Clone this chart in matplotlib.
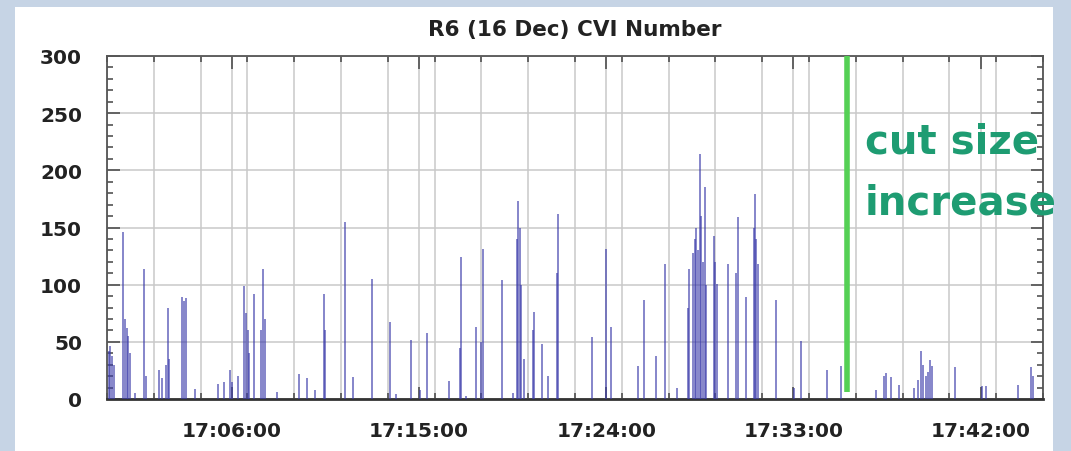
import matplotlib
matplotlib.use("Agg")
import matplotlib.pyplot as plt
from matplotlib.patches import Rectangle
from matplotlib.ticker import MultipleLocator

# ---------------- data ----------------
title = "R6 (16 Dec) CVI Number"
start_label = "17:00:00"
end_label = "17:45:00"
x_tick_labels = ["17:06:00", "17:15:00", "17:24:00", "17:33:00", "17:42:00"]
y_ticks = [0, 50, 100, 150, 200, 250, 300]

# spike times in seconds after 17:00:00 and CVI number values
spike_t = [5, 10, 15, 20,
           47, 52, 57, 62, 65,
           80, 108, 112, 150, 158, 170, 175, 180,
           217, 222, 228, 255,
           320, 338, 355, 360, 378,
           396, 401, 406, 410, 423, 445, 451, 455, 491,
           553, 577, 600, 625, 628, 687, 710, 764, 815, 835,
           878, 902, 923, 986, 1018, 1021, 1035, 1063, 1080, 1084,
           1140, 1170, 1182, 1186, 1190, 1194, 1202, 1228, 1231, 1255, 1272,
           1298, 1301, 1400, 1440, 1455, 1532, 1549, 1583, 1610, 1645,
           1675, 1679, 1690, 1695, 1700, 1705, 1710, 1714, 1718, 1724, 1728,
           1751, 1755, 1761, 1790, 1815, 1819, 1843, 1865, 1869, 1873, 1877,
           1929, 1981, 2001, 2078, 2117,
           2218, 2242, 2247, 2261, 2285,
           2327, 2340, 2348, 2355, 2362, 2368, 2375, 2380,
           2446, 2525, 2535, 2627, 2665, 2672]
spike_v = [42, 46, 38, 30,
           146, 70, 62, 55, 40,
           5, 114, 20, 25, 18, 30, 80, 35,
           89, 86, 88, 9,
           13, 15, 25, 15, 20,
           99, 75, 60, 40, 92, 60, 114, 70, 6,
           22, 18, 8, 92, 60, 155, 19, 105, 67, 4,
           52, 8, 58, 16, 45, 124, 3, 63, 50, 131,
           104, 5, 140, 173, 150, 100, 35, 60, 76, 48, 20,
           110, 162, 54, 131, 63, 29, 87, 38, 118, 10,
           80, 114, 128, 140, 150, 130, 214, 160, 120, 185, 100,
           143, 120, 101, 118, 110, 159, 89, 150, 179, 140, 118,
           87, 10, 51, 25, 29,
           8, 20, 23, 19, 12,
           10, 17, 42, 30, 20, 24, 34, 29,
           28, 11, 11, 12, 28, 20]

cut_label = "17:35:36"
cut_bottom, cut_top = 6, 300
annot_lines = ["cut size", "increase"]


def to_sec(lbl):
    h, m, s = (int(p) for p in lbl.split(":"))
    return (h - 17) * 3600 + m * 60 + s


# ---------------- figure ----------------
W, H = 1071, 452
fig = plt.figure(figsize=(W / 100, H / 100), dpi=100, facecolor="#c6d4e5")
fig.patches.append(Rectangle((15 / W, 0), (1053 - 15) / W, (H - 8) / H,
                             transform=fig.transFigure, facecolor="white",
                             edgecolor="none", zorder=-10))

ax = fig.add_axes([107 / W, 52 / H, 936 / W, 343 / H])
ax.set_facecolor("white")

ax.vlines(spike_t, 0, spike_v, colors="#3a3aaa", alpha=0.62, lw=1.4, zorder=3)

ax.set_xlim(to_sec(start_label), to_sec(end_label))
ax.set_ylim(0, 300)

xt = [to_sec(l) for l in x_tick_labels]
ax.set_xticks(xt)
ax.set_xticklabels(x_tick_labels)
ax.xaxis.set_minor_locator(MultipleLocator(135))
ax.set_yticks(y_ticks)
ax.yaxis.set_minor_locator(MultipleLocator(10))

ax.grid(True, which="major", color="#c9c9c9", lw=1.1, zorder=1)
ax.grid(True, which="minor", axis="x", color="#c9c9c9", lw=1.1, zorder=1)
ax.set_axisbelow(True)

for lab in ax.get_xticklabels() + ax.get_yticklabels():
    lab.set_fontfamily("DejaVu Sans")
    lab.set_fontweight("bold")
    lab.set_fontsize(14.5)
    lab.set_color("#222222")

ax.tick_params(axis="both", which="major", direction="in", length=9, width=1.1,
               color="#444444", top=True, right=True)
ax.tick_params(axis="both", which="minor", direction="in", length=4.5, width=1.1,
               color="#444444", top=True, right=True)
ax.tick_params(axis="y", which="major", pad=18)
ax.tick_params(axis="x", which="major", pad=16)

for side in ["left", "right", "top"]:
    ax.spines[side].set_color("#555555")
    ax.spines[side].set_linewidth(1.3)
ax.spines["bottom"].set_color("#333333")
ax.spines["bottom"].set_linewidth(2.0)

# cut size line
ax.vlines([to_sec(cut_label)], cut_bottom, cut_top, colors="#55d055", lw=4, zorder=4)

fig.text(575 / W, (H - 30) / H, title, ha="center", va="center",
         fontfamily="DejaVu Sans", fontweight="bold", fontsize=15.5, color="#222222")

fig.text(865 / W, (H - 153) / H, annot_lines[0], ha="left", va="baseline",
         fontfamily="DejaVu Sans", fontweight="bold", fontsize=29, color="#1e9c72")
fig.text(865 / W, (H - 215) / H, annot_lines[1], ha="left", va="baseline",
         fontfamily="DejaVu Sans", fontweight="bold", fontsize=29, color="#1e9c72")

fig.savefig("out.png", dpi=100, facecolor=fig.get_facecolor())
